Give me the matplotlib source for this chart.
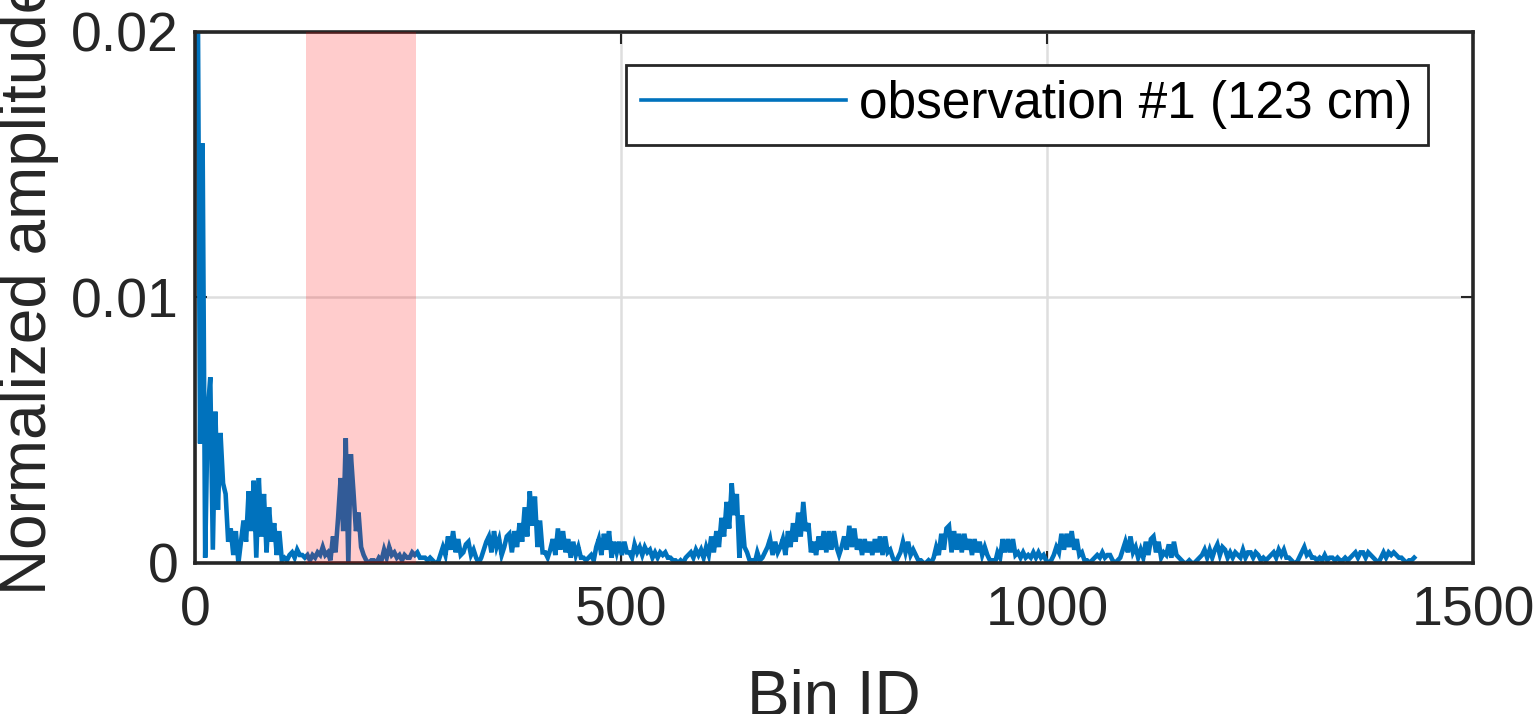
import numpy as np
import matplotlib.pyplot as plt

plt.rcParams['font.family'] = ['Liberation Sans', 'DejaVu Sans']

# amplitude, units of 1e-4, one value every 3 bins (bin 0 ... 1431)
amp = [
    185, 240, 45, 158, 2, 57, 70, 5, 57, 20,
    49, 30, 26, 8, 13, 3, 12, 0, 8, 16,
    8, 27, 12, 31, 2, 32, 10, 26, 4, 21,
    8, 15, 3, 12, 1, 2, 1, 3, 4, 2,
    5, 3, 3, 2, 3, 1, 3, 2, 4, 3,
    6, 3, 4, 1, 10, 4, 17, 32, 12, 47,
    0, 41, 27, 12, 19, 6, 3, 1, 0, 1,
    1, 0, 2, 1, 5, 2, 6, 3, 4, 2,
    3, 1, 3, 2, 2, 4, 3, 4, 2, 2,
    2, 1, 2, 1, 0, 0, 3, 6, 3, 10,
    5, 12, 4, 9, 3, 4, 7, 8, 3, 5,
    2, 0, 2, 5, 8, 10, 4, 12, 6, 9,
    3, 6, 10, 11, 4, 12, 6, 15, 8, 21,
    10, 27, 14, 25, 6, 16, 4, 4, 2, 5,
    9, 3, 13, 5, 12, 4, 9, 2, 8, 3,
    6, 2, 2, 1, 2, 3, 1, 6, 9, 3,
    11, 5, 12, 2, 8, 4, 8, 3, 8, 4,
    4, 2, 7, 4, 6, 3, 6, 4, 5, 2,
    4, 2, 4, 3, 4, 2, 2, 1, 1, 0,
    1, 0, 2, 3, 4, 2, 5, 3, 5, 2,
    6, 3, 10, 4, 12, 6, 17, 10, 23, 13,
    30, 18, 26, 2, 18, 6, 4, 1, 1, 0,
    4, 1, 2, 4, 6, 9, 3, 8, 4, 6,
    9, 3, 12, 6, 15, 8, 19, 10, 23, 12,
    15, 4, 8, 3, 10, 5, 12, 4, 12, 5,
    12, 6, 3, 6, 10, 5, 14, 6, 13, 5,
    9, 3, 9, 4, 8, 3, 9, 4, 10, 3,
    10, 4, 5, 2, 0, 2, 4, 8, 4, 8,
    3, 5, 3, 1, 1, 0, 0, 1, 0, 2,
    6, 3, 11, 5, 13, 14, 4, 12, 5, 11,
    4, 11, 5, 9, 3, 9, 4, 8, 3, 6,
    3, 1, 1, 0, 4, 2, 9, 4, 9, 4,
    9, 3, 4, 2, 4, 2, 3, 2, 4, 2,
    4, 2, 3, 1, 0, 1, 3, 6, 4, 11,
    5, 11, 6, 12, 5, 9, 3, 4, 1, 1,
    0, 1, 2, 3, 2, 4, 2, 3, 3, 1,
    0, 1, 2, 5, 8, 4, 10, 4, 6, 2,
    5, 2, 8, 3, 9, 10, 4, 8, 2, 4,
    3, 7, 2, 8, 3, 2, 1, 0, 0, 1,
    0, 0, 1, 2, 3, 5, 2, 5, 2, 5,
    7, 3, 6, 5, 2, 4, 2, 4, 3, 2,
    5, 2, 4, 4, 2, 4, 3, 1, 2, 1,
    2, 3, 4, 2, 5, 3, 5, 2, 2, 1,
    0, 0, 2, 4, 6, 3, 4, 2, 2, 1,
    2, 1, 3, 1, 2, 2, 1, 2, 1, 1,
    2, 1, 2, 3, 4, 2, 4, 4, 2, 4,
    3, 2, 1, 0, 2, 4, 2, 4, 3, 4,
    3, 2, 2, 1, 0, 1, 1, 2,
]
bins = np.arange(len(amp)) * 3
amp = np.array(amp) * 1e-4

roi = (130, 260)  # highlighted bin range
label = 'observation #1 (123 cm)'

fig = plt.figure(figsize=(15.35, 7.14), dpi=100)
ax = fig.add_axes([0.127, 0.2115, 0.8326, 0.7437])

ax.plot(bins, amp, color='#0072BD', lw=3.3, label=label, zorder=2,
        solid_joinstyle='miter')
ax.axvspan(roi[0], roi[1], color='red', alpha=0.2, lw=0, zorder=4)

ax.set_xlim(0, 1500)
ax.set_ylim(0, 0.02)
ax.set_xticks([0, 500, 1000, 1500])
ax.set_yticks([0, 0.01, 0.02])
ax.set_yticklabels(['0', '0.01', '0.02'])
ax.grid(True, color='#dedede', lw=1.8)
ax.set_axisbelow(True)

ax.tick_params(direction='in', length=8.5, width=1.5, colors='#262626',
               labelsize=40, top=True, right=True)
ax.tick_params(axis='x', pad=16)
ax.tick_params(axis='y', pad=12)
for s in ax.spines.values():
    s.set_linewidth(2.6)
    s.set_color('#262626')
    s.set_zorder(3)

ax.set_xlabel('Bin ID', fontsize=46, color='#262626')
ax.set_ylabel('Normalized amplitude', fontsize=46, color='#262626')
ax.xaxis.set_label_coords(0.5, -0.2)
ax.yaxis.set_label_coords(-0.106, 0.52)

leg = ax.legend(loc='upper right', bbox_to_anchor=(0.9648, 0.938),
                borderaxespad=0, fontsize=37, handlelength=4.0,
                handletextpad=0.25, borderpad=0.3, fancybox=False,
                framealpha=1, edgecolor='#262626')
leg.get_frame().set_linewidth(2)
leg.get_lines()[0].set_linewidth(2.6)
leg.set_zorder(6)

plt.savefig('out.png', dpi=100)
